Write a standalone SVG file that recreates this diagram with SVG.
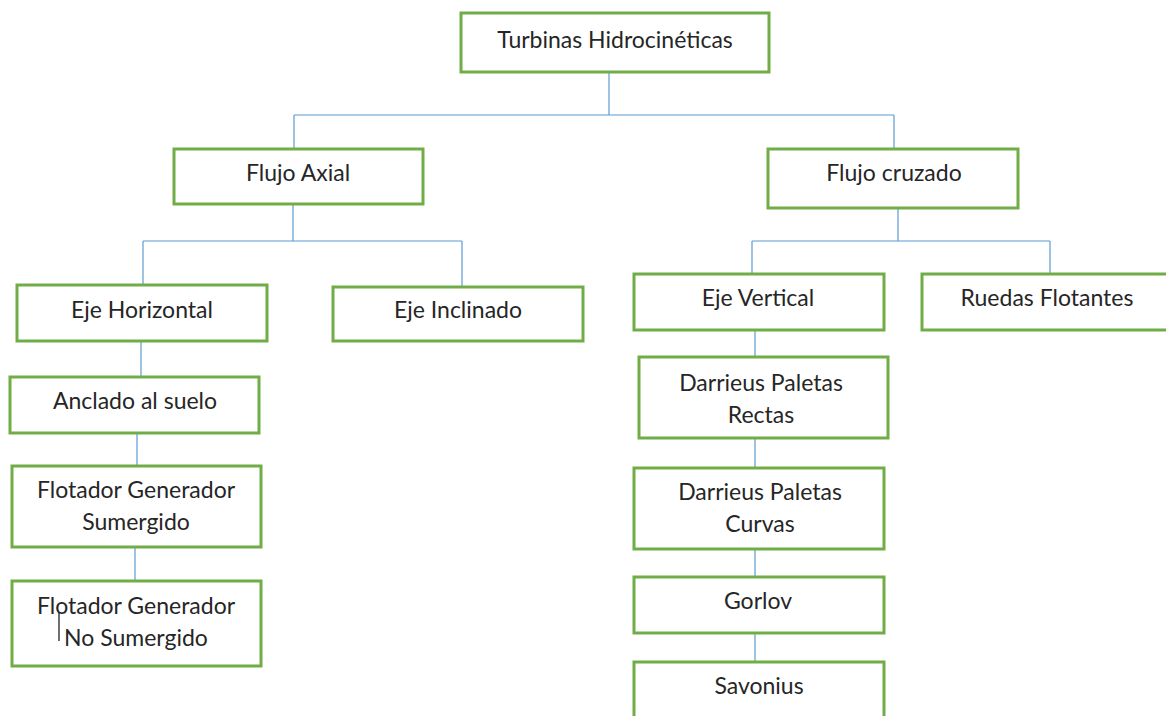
<svg xmlns="http://www.w3.org/2000/svg" width="1166" height="716" viewBox="0 0 1166 716">
<style>
.box{fill:#fff;stroke:#70AD47;stroke-width:3}
.lbl{font-family:Lato,"Liberation Sans",sans-serif;font-size:23px;fill:#262626;text-anchor:middle}
.conn line{stroke:#5B9BD5;stroke-width:1.2}
</style>
<rect x="0" y="0" width="1166" height="716" fill="#fff"/>
<g class="conn" id="connectors">
<line x1="609" y1="72" x2="609" y2="115"/>
<line x1="294" y1="115" x2="894" y2="115"/>
<line x1="294" y1="115" x2="294" y2="149"/>
<line x1="894" y1="115" x2="894" y2="149"/>
<line x1="293" y1="204" x2="293" y2="241"/>
<line x1="143" y1="241" x2="462" y2="241"/>
<line x1="143" y1="241" x2="143" y2="285"/>
<line x1="462" y1="241" x2="462" y2="287"/>
<line x1="898" y1="208" x2="898" y2="241"/>
<line x1="752" y1="241" x2="1050" y2="241"/>
<line x1="752" y1="241" x2="752" y2="274"/>
<line x1="1050" y1="241" x2="1050" y2="274"/>
<line x1="141" y1="341" x2="141" y2="377"/>
<line x1="137" y1="433" x2="137" y2="466"/>
<line x1="135" y1="547" x2="135" y2="581"/>
<line x1="755" y1="330" x2="755" y2="357"/>
<line x1="755" y1="438" x2="755" y2="468"/>
<line x1="755" y1="549" x2="755" y2="577"/>
<line x1="755" y1="633" x2="755" y2="662"/>
</g>
<g id="turbinas"><rect class="box" x="461" y="13" width="308" height="59"/><text class="lbl" x="615" y="48">Turbinas Hidrocinéticas</text></g>
<g id="flujo-axial"><rect class="box" x="174" y="149" width="249" height="55"/><text class="lbl" x="298" y="181">Flujo Axial</text></g>
<g id="flujo-cruzado"><rect class="box" x="768" y="149" width="250" height="59"/><text class="lbl" x="894" y="181">Flujo cruzado</text></g>
<g id="eje-horizontal"><rect class="box" x="17" y="285" width="250" height="56"/><text class="lbl" x="142" y="318">Eje Horizontal</text></g>
<g id="eje-inclinado"><rect class="box" x="333" y="287" width="250" height="54"/><text class="lbl" x="458" y="318">Eje Inclinado</text></g>
<g id="eje-vertical"><rect class="box" x="634" y="274" width="250" height="56"/><text class="lbl" x="758" y="306">Eje Vertical</text></g>
<g id="ruedas-flotantes"><rect class="box" x="922" y="274" width="250" height="56"/><text class="lbl" x="1047" y="306">Ruedas Flotantes</text></g>
<g id="anclado"><rect class="box" x="10" y="377" width="249" height="56"/><text class="lbl" x="135" y="409">Anclado al suelo</text></g>
<g id="flotador-sumergido"><rect class="box" x="12" y="466" width="249" height="81"/><text class="lbl" x="136" y="498">Flotador Generador</text><text class="lbl" x="136" y="530">Sumergido</text></g>
<g id="flotador-no-sumergido"><rect class="box" x="12" y="581" width="249" height="85"/><text class="lbl" x="136" y="614">Flotador Generador</text><text class="lbl" x="136" y="646">No Sumergido</text><line x1="59" y1="613" x2="59" y2="641" stroke="#111" stroke-width="1.2"/></g>
<g id="darrieus-rectas"><rect class="box" x="639" y="357" width="249" height="81"/><text class="lbl" x="761" y="391">Darrieus Paletas</text><text class="lbl" x="761" y="423">Rectas</text></g>
<g id="darrieus-curvas"><rect class="box" x="634" y="468" width="250" height="81"/><text class="lbl" x="760" y="500">Darrieus Paletas</text><text class="lbl" x="760" y="532">Curvas</text></g>
<g id="gorlov"><rect class="box" x="634" y="577" width="250" height="56"/><text class="lbl" x="758" y="609">Gorlov</text></g>
<g id="savonius"><rect class="box" x="634" y="662" width="250" height="70"/><text class="lbl" x="759" y="694">Savonius</text></g>
</svg>
